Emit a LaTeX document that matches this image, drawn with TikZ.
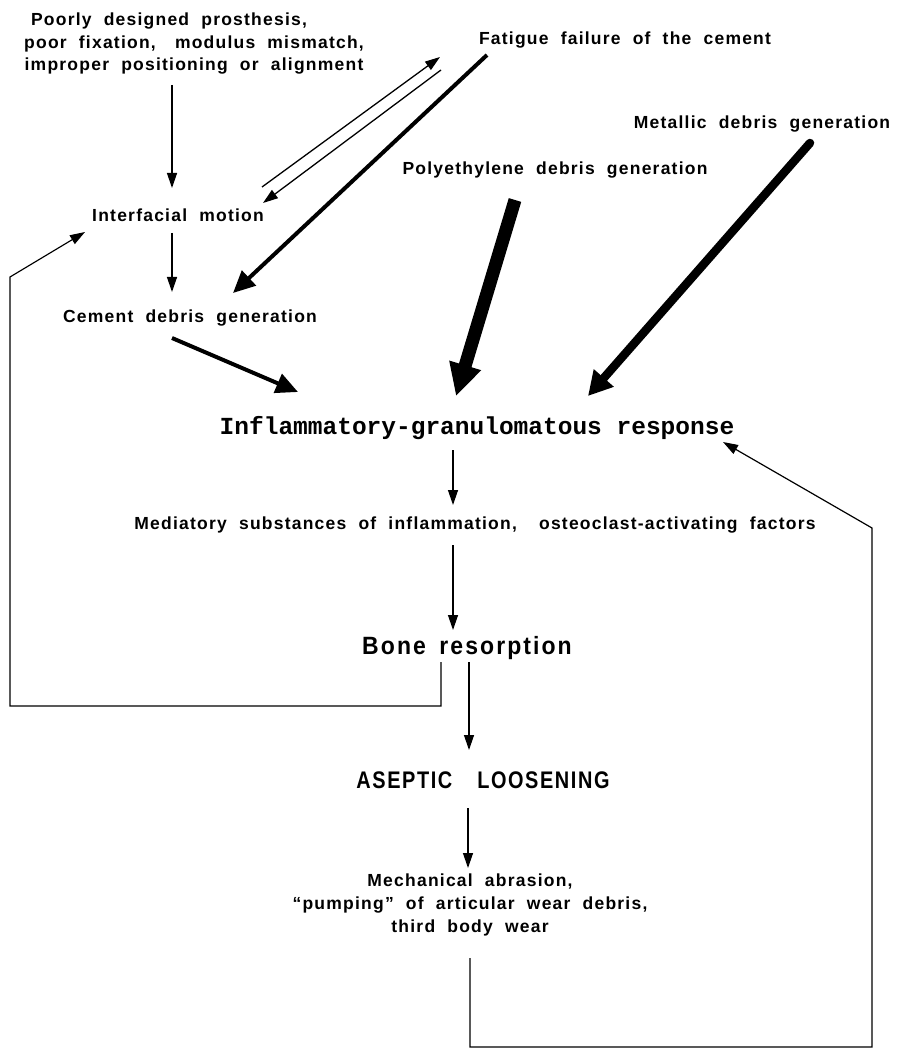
\documentclass[tikz,border=0pt]{standalone}
\usepackage{fontspec}
\usepackage{graphicx}
\usetikzlibrary{arrows.meta,calc}
\newfontfamily\txtfont[LetterSpace=7,WordSpace=2.0]{Liberation Sans}
\newfontfamily\inflfont{Liberation Mono}
\newfontfamily\condfont[LetterSpace=9,WordSpace=1.6]{Liberation Sans}
\newfontfamily\condfontb[LetterSpace=8]{Liberation Sans}
\tikzset{
  lbl/.style={inner sep=0pt, outer sep=0pt, align=center,
    font=\txtfont\bfseries\fontsize{17.5}{22.5}\selectfont},
  infl/.style={inner sep=0pt, outer sep=0pt,
    font=\inflfont\bfseries\fontsize{24.5}{26}\selectfont},
  bonestyle/.style={inner sep=0pt, outer sep=0pt,
    font=\condfont\bfseries\fontsize{25}{26}\selectfont},
  asepstyle/.style={inner sep=0pt, outer sep=0pt,
    font=\condfontb\bfseries\fontsize{24}{26}\selectfont},
  thinarrow/.style={line width=1.3pt, -{Triangle[width=10pt,length=15pt]}},
  fbline/.style={line width=1.2pt, -{Triangle[width=10pt,length=15pt]}},
  medarrow/.style={line width=4pt, -{Triangle[width=20pt,length=22pt]}},
  bigarrow/.style={line width=8.5pt, -{Triangle[width=25pt,length=24pt]}},
  hugearrow/.style={line width=13pt, -{Triangle[width=31pt,length=32pt]}},
}
\begin{document}
\begin{tikzpicture}[x=1pt,y=-1pt]
\useasboundingbox (0,0) rectangle (906,1048);
\fill[white] (0,0) rectangle (906,1048);

% nodes
\node[lbl] (poor) at (194,44) {Poorly designed prosthesis,\hspace*{50pt}\\poor fixation,\ \hspace{7pt}modulus mismatch,\\improper positioning or alignment};
\node[lbl] (fatigue) at (625,40) {Fatigue failure of the cement};
\node[lbl] (interf) at (178,215) {Interfacial motion};
\node[lbl] (cement) at (190,318) {Cement debris generation};
\node[lbl] (poly) at (555,170) {Polyethylene debris generation};
\node[lbl] (metal) at (762,124) {Metallic debris generation};
\node[infl] (inflam) at (477,428) {Inflammatory-granulomatous response};
\node[lbl] (medi) at (475,525) {Mediatory substances of inflammation,\ \hspace{10pt}osteoclast-activating factors};
\node[bonestyle] (bone) at (467,648) {\scalebox{0.92}[1]{Bone resorption}};
\node[asepstyle] (asep) at (483,780) {\scalebox{0.83}[1]{ASEPTIC\hspace{30pt}LOOSENING}};
\node[lbl, font=\txtfont\bfseries\fontsize{17.5}{23}\selectfont] (mech) at (470,905) {Mechanical abrasion,\\“pumping” of articular wear debris,\\third body wear};

% connectors
\draw[thinarrow] ($(poor)+(-22,41)$) -- ($(interf)+(-6,-27)$);
\draw[thinarrow] ($(interf)+(84,-28)$) -- ($(fatigue)+(-185,17)$);
\draw[thinarrow] ($(fatigue)+(-184,30)$) -- ($(interf)+(85,-12)$);
\draw[medarrow] ($(fatigue)+(-138,15)$) -- ($(cement)+(43,-25)$);
\draw[thinarrow] ($(interf)+(-6,18)$) -- ($(cement)+(-18,-26)$);
\draw[medarrow] ($(cement)+(-18,20)$) -- ($(inflam)+(-179,-36)$);
\draw[hugearrow] ($(poly)+(-40,30)$) -- ($(inflam)+(-21,-32)$);
\draw[bigarrow, line cap=round] ($(metal)+(48,19)$) -- ($(inflam)+(111,-32)$);
\draw[thinarrow] ($(inflam)+(-24,22)$) -- ($(medi)+(-22,-20)$);
\draw[thinarrow] ($(medi)+(-22,20)$) -- ($(bone)+(-14,-18)$);
\draw[thinarrow] ($(bone)+(2,14)$) -- ($(asep)+(-14,-30)$);
\draw[thinarrow] ($(asep)+(-15,28)$) -- ($(mech)+(-2,-37)$);
\draw[fbline] ($(bone)+(-26,14)$) -- ++(0,44) -| (10,277) -- ($(interf)+(-93,17)$);
\draw[fbline] ($(mech)+(0,53)$) -- ++(0,89) -| (872,528) -- ($(inflam)+(246,14)$);
\end{tikzpicture}
\end{document}
